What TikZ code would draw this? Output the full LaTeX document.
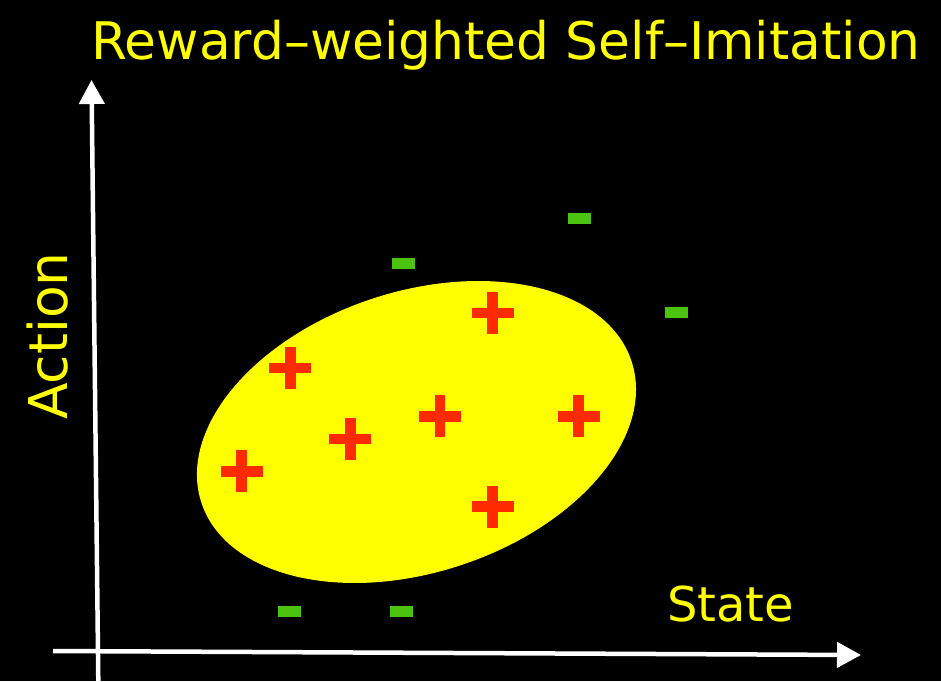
\documentclass[tikz,border=0pt]{standalone}
\usepackage{fontspec}
\setmainfont{DejaVu Sans}
\usetikzlibrary{arrows.meta}
\definecolor{bgblack}{HTML}{000000}
\definecolor{txtyellow}{HTML}{FFFF00}
\definecolor{blobyellow}{HTML}{FFFF00}
\definecolor{plusred}{HTML}{FF2A00}
\definecolor{minusgreen}{HTML}{4BC30F}
\tikzset{
  axisline/.style={draw=white, line width=4.5pt, -{Triangle[length=24pt,width=25pt]}},
  lbl/.style={text=txtyellow, inner sep=0pt, font=\fontsize{51.8}{56}\selectfont},
  plusmark/.pic={
    \fill[plusred] (-21,-5.35) rectangle (21,5.35);
    \fill[plusred] (-5.35,-21) rectangle (5.35,21);
  },
  minusmark/.pic={
    \fill[minusgreen] (-11.5,-5.5) rectangle (11.5,5.5);
  }
}
\begin{document}
\begin{tikzpicture}[x=1pt,y=-1pt]
\fill[bgblack] (0,0) rectangle (941,681);
\useasboundingbox (0,0) rectangle (941,681);
% blob
\coordinate (c) at (416.5,432);
\fill[blobyellow, rotate around={18.2:(c)}] (c) ellipse [x radius=226.4pt, y radius=140.4pt];
% axes
\coordinate (yb) at (98.3,681);
\coordinate (yt) at (91.5,80);
\coordinate (xl) at (53,651);
\coordinate (xr) at (861,655);
\draw[axisline] (yb) -- (yt);
\draw[axisline] (xl) -- (xr);
% labels
\node[lbl, anchor=base west] (title) at (91,59) {Reward–weighted Self–Imitation};
\node[lbl, anchor=base west, font=\fontsize{48}{52}\selectfont] (state) at (667,621) {State};
\node[lbl, anchor=base, rotate=90, font=\fontsize{53.5}{58}\selectfont] (action) at (67,336) {Action};
% plus marks
\pic at (492.7,313) {plusmark};
\pic at (290.3,368) {plusmark};
\pic at (440,416.3) {plusmark};
\pic at (578.7,416.3) {plusmark};
\pic at (350.3,439) {plusmark};
\pic at (241.7,471.3) {plusmark};
\pic at (492.7,506.7) {plusmark};
% minus marks
\pic at (579.5,218.5) {minusmark};
\pic at (676,312.5) {minusmark};
\pic at (403,263.5) {minusmark};
\pic at (289.5,611.5) {minusmark};
\pic at (401,611) {minusmark};
\end{tikzpicture}
\end{document}
